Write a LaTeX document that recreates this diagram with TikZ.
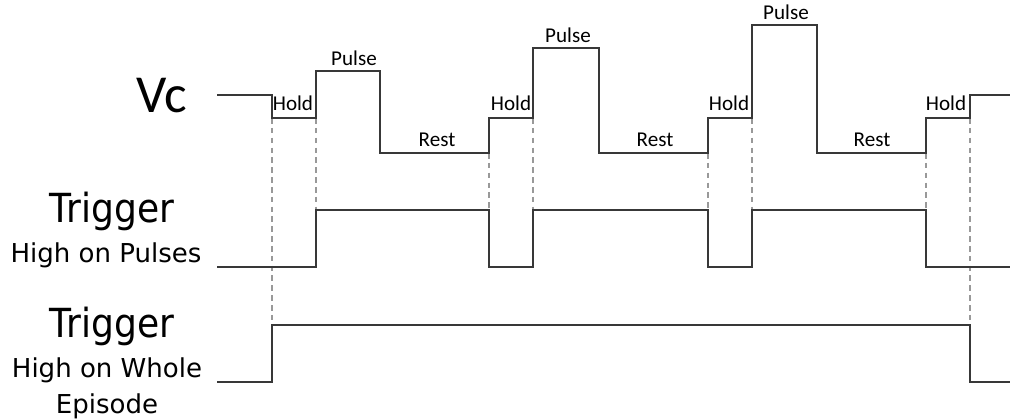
\documentclass[tikz,border=0pt]{standalone}
\usepackage{fontspec}
\newfontfamily\sidefont{DejaVu Sans}
\newfontfamily\trigfont[FakeStretch=0.9]{DejaVu Sans}
\newfontfamily\tagfont{Carlito}
\tikzset{
  wave/.style={line width=1.3pt,draw=black!78,line join=miter},
  guide/.style={line width=0.9pt,draw=black!40,dash pattern=on 4pt off 3pt},
  phase/.style={font=\tagfont\fontsize{15}{18}\selectfont,anchor=base,inner sep=0pt},
}
\begin{document}
\begin{tikzpicture}[x=0.025cm,y=-0.025cm]
\useasboundingbox (0,0) rectangle (1012,420);
% guides between the traces
\foreach \xa/\ya/\yb in {272/118/325,316/118/210,489/153/210,533/118/210,
                         708/153/210,752/118/210,926/153/210,970/118/325}
  \draw[guide] (\xa,\ya) -- (\xa,\yb);
% Vc
\draw[wave] (217,95) -- (272,95) -- (272,118) -- (316,118) -- (316,71) -- (380,71)
  -- (380,153) -- (489,153) -- (489,118) -- (533,118) -- (533,48) -- (599,48)
  -- (599,153) -- (708,153) -- (708,118) -- (752,118) -- (752,25) -- (817,25)
  -- (817,153) -- (926,153) -- (926,118) -- (970,118) -- (970,95) -- (1010,95);
% trigger, high on pulses
\draw[wave] (217,267) -- (316,267) -- (316,210) -- (489,210) -- (489,267) -- (533,267)
  -- (533,210) -- (708,210) -- (708,267) -- (752,267) -- (752,210) -- (926,210)
  -- (926,267) -- (1010,267);
% trigger, high on whole episode
\draw[wave] (217,382) -- (272,382) -- (272,325) -- (970,325) -- (970,382) -- (1010,382);
% phase labels
\node[phase] (hold1) at (293,110) {Hold};
\node[phase] (pulse1) at (354,66) {Pulse};
\node[phase] (rest1) at (437,146) {Rest};
\node[phase] (hold2) at (511,110) {Hold};
\node[phase] (pulse2) at (568,43) {Pulse};
\node[phase] (rest2) at (655,146) {Rest};
\node[phase] (hold3) at (729,110) {Hold};
\node[phase] (pulse3) at (786,20) {Pulse};
\node[phase] (rest3) at (872,146) {Rest};
\node[phase] (hold4) at (946,110) {Hold};
% side labels
\node[font=\tagfont\fontsize{38}{44}\selectfont,anchor=base,inner sep=0pt] (vc) at (162,112) {Vc};
\node[font=\trigfont\fontsize{28.5}{34}\selectfont,anchor=base,inner sep=0pt] (trigA) at (112,222) {Trigger};
\node[font=\sidefont\fontsize{18.5}{25.6}\selectfont,anchor=base,inner sep=0pt] (subA) at (106,262) {High on Pulses};
\node[font=\trigfont\fontsize{28.5}{34}\selectfont,anchor=base,inner sep=0pt] (trigB) at (112,337) {Trigger};
\node[font=\sidefont\fontsize{18.5}{25.6}\selectfont,anchor=base,inner sep=0pt] (subB) at (107,377) {High on Whole};
\node[font=\sidefont\fontsize{18.5}{25.6}\selectfont,anchor=base,inner sep=0pt] (subC) at (107,413) {Episode};
\end{tikzpicture}
\end{document}
